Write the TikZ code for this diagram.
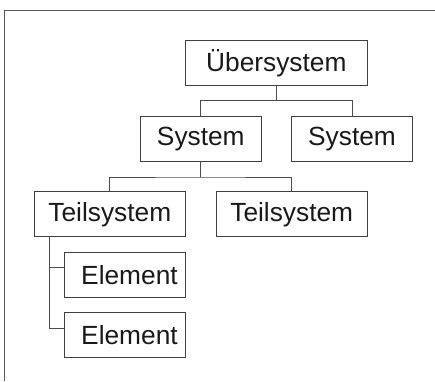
\documentclass[tikz,border=0pt]{standalone}
\usepackage{fontspec}
\setmainfont{Liberation Sans}
\begin{document}
\begin{tikzpicture}[x=1pt,y=-1pt,
  frameline/.style={draw=black!65,line width=1pt},
  box/.style={draw=black!75,line width=1pt,rectangle,inner sep=0pt,
    minimum height=45.3pt,text=black!90,font=\fontsize{26.3}{30}\selectfont},
  elbox/.style={box,minimum width=121.3pt,text width=106pt,align=right},
  link/.style={draw=black!70,line width=0.9pt}]
\useasboundingbox (0,0) rectangle (435,381);
% outer frame (top and left edges)
\draw[frameline] (4.7,381) -- (4.7,10.7) -- (435,10.7);
% boxes
\node[box,minimum width=182pt] (ueber) at (276.3,63.3) {Übersystem};
\node[box,minimum width=121pt] (sysA) at (200.8,139) {System};
\node[box,minimum width=121.4pt] (sysB) at (352,139) {System};
\node[box,minimum width=151pt] (teilA) at (109.8,214.3) {Teilsystem};
\node[box,minimum width=151.3pt] (teilB) at (291.7,214.3) {Teilsystem};
\node[elbox,minimum height=44.6pt] (elA) at (124.7,275) {Element};
\node[elbox] (elB) at (124.7,335.3) {Element};
% connectors
\coordinate (j1) at (276.3,100.7);
\coordinate (j2) at (200.8,177);
\coordinate (t1) at (49.3,237);
\coordinate (e1) at (49.3,267.3);
\coordinate (e2) at (49.3,328.3);
\draw[link] (ueber.south) -- (j1);
\draw[link] (sysA.north) |- (j1) -| (sysB.north);
\draw[link] (sysA.south) -- (j2);
\draw[link] (teilA.north) |- (j2) -| (teilB.north);
\draw[link] (t1) -- (e2) -- (e2 -| elB.west);
\draw[link] (e1) -- (e1 -| elA.west);
\end{tikzpicture}
\end{document}
